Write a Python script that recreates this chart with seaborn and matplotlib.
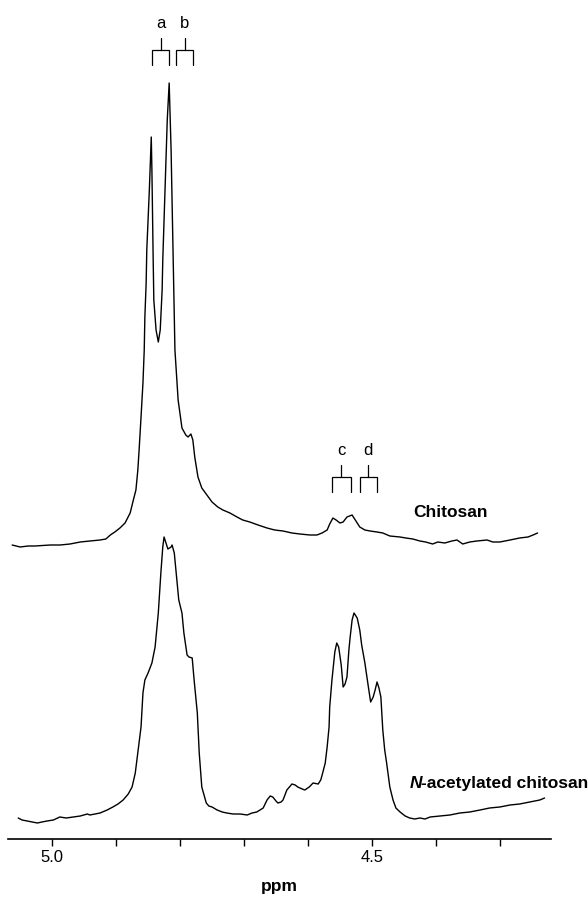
import matplotlib
matplotlib.use("Agg")
import matplotlib.pyplot as plt
import seaborn as sns
import numpy as np
import pandas as pd

# 1H NMR spectra (anomeric region), chemical shift in ppm and relative intensity
chitosan_ppm = [5.0625, 5.050, 5.0375, 5.027, 5.003, 4.9875, 4.972, 4.956, 4.941, 4.925,
                4.916, 4.909, 4.902, 4.894, 4.886, 4.878, 4.873, 4.869, 4.866, 4.864,
                4.861, 4.858, 4.856, 4.855, 4.853, 4.852, 4.848, 4.845, 4.844, 4.842,
                4.841, 4.8375, 4.834, 4.831, 4.828, 4.827, 4.823, 4.820, 4.817, 4.814,
                4.811, 4.808, 4.803, 4.797, 4.791, 4.7875, 4.783, 4.780, 4.777, 4.772,
                4.766, 4.758, 4.750, 4.741, 4.733, 4.722, 4.711, 4.702, 4.691, 4.678,
                4.664, 4.652, 4.639, 4.625, 4.6125, 4.597, 4.586, 4.578, 4.570, 4.566,
                4.561, 4.556, 4.550, 4.545, 4.539, 4.531, 4.527, 4.519, 4.511, 4.503,
                4.492, 4.483, 4.472, 4.456, 4.447, 4.436, 4.425, 4.416, 4.405, 4.397,
                4.386, 4.375, 4.367, 4.358, 4.347, 4.336, 4.320, 4.311, 4.300, 4.284,
                4.269, 4.256, 4.248, 4.241]
chitosan_int = [2, 0, 1, 1, 2, 2, 3, 5, 6, 7,
                8, 12, 15, 19, 24, 34, 47, 57, 77, 97,
                130, 164, 197, 230, 264, 297, 357, 410, 377, 287,
                247, 217, 205, 217, 257, 287, 367, 427, 464, 397,
                297, 197, 147, 119, 112, 110, 113, 107, 90, 70,
                59, 52, 45, 40, 37, 34, 30, 27, 25, 22,
                19, 17, 16, 14, 13, 12, 12, 14, 17, 23,
                29, 27, 24, 25, 30, 32, 28, 20, 17, 16,
                15, 14, 11, 10, 9, 8, 6, 5, 3, 5,
                4, 6, 7, 3, 5, 6, 7, 5, 5, 7,
                9, 10, 12, 14]

acetyl_ppm = [5.053, 5.047, 5.039, 5.031, 5.023, 5.016, 5.008, 4.998, 4.988, 4.978,
              4.967, 4.956, 4.945, 4.941, 4.925, 4.914, 4.905, 4.897, 4.889, 4.881,
              4.875, 4.870, 4.866, 4.861, 4.858, 4.855, 4.850, 4.844, 4.839, 4.834,
              4.830, 4.827, 4.825, 4.822, 4.819, 4.814, 4.8125, 4.809, 4.805, 4.802,
              4.797, 4.794, 4.789, 4.786, 4.781, 4.778, 4.773, 4.770, 4.766, 4.759,
              4.755, 4.750, 4.742, 4.734, 4.727, 4.717, 4.706, 4.695, 4.6875, 4.680,
              4.670, 4.664, 4.659, 4.655, 4.650, 4.647, 4.642, 4.639, 4.633, 4.625,
              4.620, 4.616, 4.609, 4.605, 4.598, 4.592, 4.584, 4.580, 4.577, 4.573,
              4.570, 4.567, 4.566, 4.5625, 4.561, 4.558, 4.555, 4.552, 4.548, 4.545,
              4.542, 4.539, 4.536, 4.534, 4.531, 4.528, 4.523, 4.519, 4.516, 4.511,
              4.506, 4.502, 4.498, 4.495, 4.492, 4.489, 4.486, 4.483, 4.480, 4.477,
              4.472, 4.467, 4.4625, 4.456, 4.448, 4.441, 4.433, 4.425, 4.417, 4.409,
              4.394, 4.378, 4.3625, 4.347, 4.331, 4.316, 4.300, 4.284, 4.269, 4.253,
              4.2375, 4.230]
acetyl_int = [4, 2, 1, 0, -1, 0, 1, 2, 5, 4,
              5, 6, 8, 7, 9, 12, 15, 18, 22, 28,
              35, 49, 69, 95, 129, 142, 149, 159, 175, 209,
              249, 275, 285, 279, 273, 275, 277, 269, 242, 222,
              209, 189, 167, 165, 164, 142, 109, 69, 35, 19,
              16, 15, 12, 10, 9, 8, 8, 7, 9, 10,
              14, 22, 26, 25, 21, 19, 20, 22, 32, 38,
              37, 35, 33, 32, 35, 39, 38, 42, 49, 59,
              75, 95, 115, 142, 152, 170, 179, 175, 157, 135,
              138, 145, 172, 185, 202, 209, 204, 192, 177, 159,
              137, 120, 125, 132, 140, 134, 125, 92, 72, 59,
              35, 22, 14, 10, 6, 4, 3, 4, 3, 5,
              6, 7, 9, 10, 12, 14, 15, 17, 18, 20,
              22, 24]

# vertical stacking of the two spectra (same arbitrary units as intensities)
chitosan_offset = 292
acetyl_offset = 17

# doublet brackets: label, left/right leg positions (ppm)
bracket_labels = ["a", "b", "c", "d"]
bracket_left = [4.844, 4.806, 4.5625, 4.519]
bracket_right = [4.817, 4.780, 4.533, 4.492]
bracket_bar = [789, 789, 362, 362]

tick_values = [5.0, 4.9, 4.8, 4.7, 4.6, 4.5, 4.4, 4.3]
tick_labels = ["5.0", "", "", "", "", "4.5", "", ""]

sns.set_style("white")
plt.rcParams["font.family"] = ["Liberation Sans", "DejaVu Sans"]
plt.rcParams["text.color"] = "black"
plt.rcParams["axes.labelcolor"] = "black"

fig = plt.figure(figsize=(5.88, 8.97), dpi=100)
ax = fig.add_axes([8 / 588, (897 - 839) / 897, (551 - 8) / 588, 839 / 897])
ax.set_xlim(5.069, 4.220)
ax.set_ylim(0, 839)

top = pd.DataFrame({"ppm": chitosan_ppm,
                    "y": np.array(chitosan_int) + chitosan_offset})
bottom = pd.DataFrame({"ppm": acetyl_ppm,
                       "y": np.array(acetyl_int) + acetyl_offset})
sns.lineplot(data=top, x="ppm", y="y", ax=ax, color="black", lw=1.0,
             estimator=None, sort=True)
sns.lineplot(data=bottom, x="ppm", y="y", ax=ax, color="black", lw=1.0,
             estimator=None, sort=True)

# doublet brackets with labels
for lab, xl, xr, yb in zip(bracket_labels, bracket_left, bracket_right, bracket_bar):
    xm = (xl + xr) / 2
    ax.plot([xl, xl, xr, xr], [yb - 15, yb, yb, yb - 15], color="black", lw=0.9,
            solid_joinstyle="miter")
    ax.plot([xm, xm], [yb, yb + 12], color="black", lw=0.9)
    ax.text(xm, yb + 27, lab, ha="center", va="center", fontsize=12,
            color="black")

ax.set_xlim(5.069, 4.220)
ax.set_ylim(0, 839)

ax.text(4.436, 327, "Chitosan", ha="left", va="center", fontsize=12.5,
        fontweight="bold", color="black")
tn = ax.text(4.441, 56, "N", ha="left", va="center", fontsize=12.5,
             fontweight="bold", fontstyle="italic", color="black")
fig.canvas.draw()
bb = tn.get_window_extent()
x_after = ax.transData.inverted().transform((bb.x1 - 1, 0))[0]
ax.text(x_after, 56, "-acetylated chitosan", ha="left", va="center",
        fontsize=12.5, fontweight="bold", color="black")

ax.set_xticks(tick_values)
ax.set_xticklabels(tick_labels)
ax.set_yticks([])
ax.set_ylabel("")
ax.set_xlabel("ppm", fontsize=12.5, fontweight="bold", labelpad=10,
              color="black")
for s in ["left", "right", "top"]:
    ax.spines[s].set_visible(False)
ax.spines["bottom"].set_linewidth(1.2)
ax.spines["bottom"].set_color("black")
ax.tick_params(axis="x", direction="out", length=5, width=1.0, pad=3,
               labelsize=12, colors="black", bottom=True)

fig.savefig("out.png", dpi=100)
